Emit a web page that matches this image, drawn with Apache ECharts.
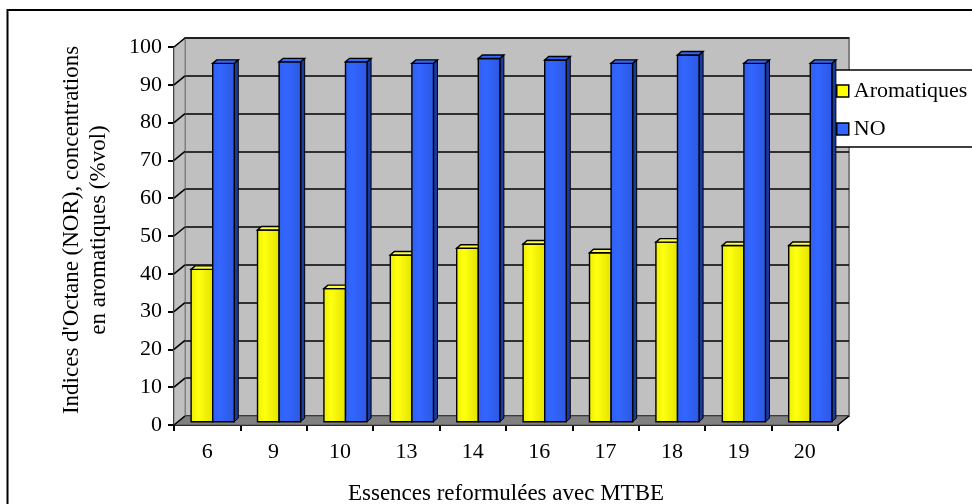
<!DOCTYPE html>
<html>
<head>
<meta charset="utf-8">
<script src="https://cdn.jsdelivr.net/npm/echarts@6/dist/echarts.min.js"></script>
<style>html,body{margin:0;padding:0;background:#fff;}#c{width:972px;height:504px;}</style>
</head>
<body>
<div id="c"></div>
<script>
// ---- data ----
const categories = ['6', '9', '10', '13', '14', '16', '17', '18', '19', '20'];
const aromatiques = [40.3, 50.7, 35.2, 44.1, 45.9, 47.0, 44.7, 47.5, 46.6, 46.6];
const noValues = [94.8, 95.2, 95.2, 94.8, 96.1, 95.7, 94.8, 97.0, 94.8, 94.8];
const seriesNames = ['Aromatiques', 'NO'];
const yMin = 0, yMax = 100, yStep = 10;
const xTitle = 'Essences reformulées avec MTBE';
const yTitle = "Indices d'Octane (NOR), concentrations\nen aromatiques (%vol)";

// ---- layout / style ----
const FONT = '"Liberation Serif", "DejaVu Serif", serif';
const FS = 22;
const FS_TITLE = 23;
const FRONT = { left: 174, top: 47, width: 664, height: 378 };
const DEPTH = [11, -9];          // wall depth offset
const BAR_OFF = [5.5, -3.3];     // bar front-face plane offset
const BAR_DEPTH = [4, -3.5];     // bar depth
const BAR_W = 0.325;             // fraction of band per bar

const chart = echarts.init(document.getElementById('c'), null, { renderer: 'canvas' });

function wallsRender(params, api) {
  const band = api.size([1, 0])[0];
  const n = categories.length;
  const p0 = api.coord([0, yMin]);
  const pTop = api.coord([0, yMax]);
  const pEnd = api.coord([n - 1, yMin]);
  const xl = p0[0] - band / 2, xr = pEnd[0] + band / 2;
  const yb = p0[1], yt = pTop[1];
  const dx = DEPTH[0], dy = DEPTH[1];
  const children = [];
  children.push({ type: 'polygon', shape: { points: [[xl, yt], [xl + dx, yt + dy], [xl + dx, yb + dy], [xl, yb]] },
    style: { fill: '#c0c0c0', stroke: '#808080', lineWidth: 1 } });
  children.push({ type: 'polygon', shape: { points: [[xl, yb], [xl + dx, yb + dy], [xr + dx, yb + dy], [xr, yb]] },
    style: { fill: '#808080', stroke: '#555', lineWidth: 1 } });
  children.push({ type: 'line', shape: { x1: xr, y1: yb, x2: xr + dx, y2: yb + dy }, style: { stroke: '#000', lineWidth: 1.6 } });
  for (let v = yMin; v <= yMax; v += yStep) {
    const p = api.coord([0, v]);
    children.push({ type: 'line', shape: { x1: xl, y1: p[1], x2: xl + dx, y2: p[1] + dy }, style: { stroke: '#000', lineWidth: 1.6 } });
  }
  return { type: 'group', children };
}

function barRender(which, c) {
  return function (params, api) {
    const ci = api.value(0), v = api.value(1);
    const band = api.size([1, 0])[0];
    const base = api.coord([ci, yMin]);
    const top = api.coord([ci, v]);
    const bw = band * BAR_W;
    const cx = base[0] + BAR_OFF[0];
    const x0 = which === 0 ? cx - bw : cx;
    const x1 = x0 + bw;
    const yt = top[1] + BAR_OFF[1];
    const yb = base[1] + BAR_OFF[1];
    const dx = BAR_DEPTH[0], dy = BAR_DEPTH[1];
    const stroke = '#000';
    return {
      type: 'group',
      children: [
        { type: 'polygon', shape: { points: [[x1, yt], [x1 + dx, yt + dy], [x1 + dx, yb + dy], [x1, yb]] },
          style: { fill: c.side, stroke, lineWidth: 1 } },
        { type: 'rect', shape: { x: x0, y: yt, width: bw, height: yb - yt },
          style: { fill: new echarts.graphic.LinearGradient(0, 0, 1, 0, [
            { offset: 0, color: c.front[0] }, { offset: 0.35, color: c.front[1] }, { offset: 1, color: c.front[2] }]),
            stroke, lineWidth: 1.4 } },
        { type: 'polygon', shape: { points: [[x0, yt], [x0 + dx, yt + dy], [x1 + dx, yt + dy], [x1, yt]] },
          style: { fill: c.top, stroke, lineWidth: 1.4 } }
      ]
    };
  };
}

const yellow = { front: ['#eeee00', '#ffff10', '#e2e200'], top: '#ffff40', side: '#a0a000' };
const blue = { front: ['#3060f0', '#3366ff', '#2c58e0'], top: '#3366ff', side: '#1a3aa0' };

const axisTextStyle = { fontFamily: FONT, fontSize: FS, color: '#000' };
const titleTextStyle = { fontFamily: FONT, fontSize: FS_TITLE, color: '#000' };

chart.setOption({
  animation: false,
  backgroundColor: '#fff',
  textStyle: { fontFamily: FONT },
  graphic: [
    { type: 'rect', z: -10, silent: true, shape: { x: 7.5, y: 10, width: 1000, height: 540 },
      style: { fill: 'none', stroke: '#000', lineWidth: 2 } }
  ],
  grid: [
    { left: FRONT.left, top: FRONT.top, width: FRONT.width, height: FRONT.height,
      containLabel: false, outerBoundsMode: 'none' },
    { left: FRONT.left + DEPTH[0], top: FRONT.top + DEPTH[1], width: FRONT.width, height: FRONT.height,
      show: true, backgroundColor: '#c0c0c0', borderColor: '#808080', borderWidth: 2,
      containLabel: false, outerBoundsMode: 'none' }
  ],
  xAxis: [
    { type: 'category', gridIndex: 0, data: categories, boundaryGap: true,
      axisLine: { show: true, lineStyle: { color: '#000', width: 2 } },
      axisTick: { show: true, alignWithLabel: false, length: 6, lineStyle: { color: '#000', width: 2 } },
      axisLabel: Object.assign({ margin: 16, interval: 0 }, axisTextStyle),
      name: xTitle, nameLocation: 'middle', nameGap: 57, nameTextStyle: titleTextStyle,
      splitLine: { show: false } },
    { type: 'category', gridIndex: 1, data: categories, show: false }
  ],
  yAxis: [
    { type: 'value', gridIndex: 0, min: yMin, max: yMax, interval: yStep,
      axisLine: { show: true, lineStyle: { color: '#000', width: 2 } },
      axisTick: { show: true, length: 6, lineStyle: { color: '#000', width: 2 } },
      axisLabel: Object.assign({ margin: 12 }, axisTextStyle),
      splitLine: { show: false },
      name: yTitle, nameLocation: 'middle', nameRotate: 90, nameGap: 62,
      nameTextStyle: Object.assign({ lineHeight: 27, align: 'center', padding: [0, 0, 0, 12] }, titleTextStyle) },
    { type: 'value', gridIndex: 1, min: yMin, max: yMax, interval: yStep,
      axisLine: { show: false }, axisTick: { show: false }, axisLabel: { show: false },
      splitLine: { show: true, lineStyle: { color: '#000', width: 1.6 } } }
  ],
  legend: {
    orient: 'vertical', left: 827, top: 70,
    padding: [9, 60, 6, 9], itemGap: 14,
    itemWidth: 12, itemHeight: 12,
    backgroundColor: '#fff', borderColor: '#000', borderWidth: 1.6, borderRadius: 0,
    textStyle: { fontFamily: FONT, fontSize: FS, color: '#000', lineHeight: 24 },
    data: [
      { name: seriesNames[0], icon: 'rect', itemStyle: { color: '#ffff00', borderColor: '#000', borderWidth: 1.5 } },
      { name: seriesNames[1], icon: 'rect', itemStyle: { color: '#3366ff', borderColor: '#000', borderWidth: 1.5 } }
    ]
  },
  series: [
    { type: 'custom', name: '_walls', xAxisIndex: 0, yAxisIndex: 0, z: 1, silent: true,
      renderItem: wallsRender, data: [[0, 0]] },
    { type: 'custom', name: seriesNames[0], xAxisIndex: 0, yAxisIndex: 0, z: 5,
      itemStyle: { color: '#ffff00' }, encode: { x: 0, y: 1 },
      renderItem: barRender(0, yellow), data: aromatiques.map((v, i) => [i, v]) },
    { type: 'custom', name: seriesNames[1], xAxisIndex: 0, yAxisIndex: 0, z: 6,
      itemStyle: { color: '#3366ff' }, encode: { x: 0, y: 1 },
      renderItem: barRender(1, blue), data: noValues.map((v, i) => [i, v]) }
  ]
});
</script>
</body>
</html>
